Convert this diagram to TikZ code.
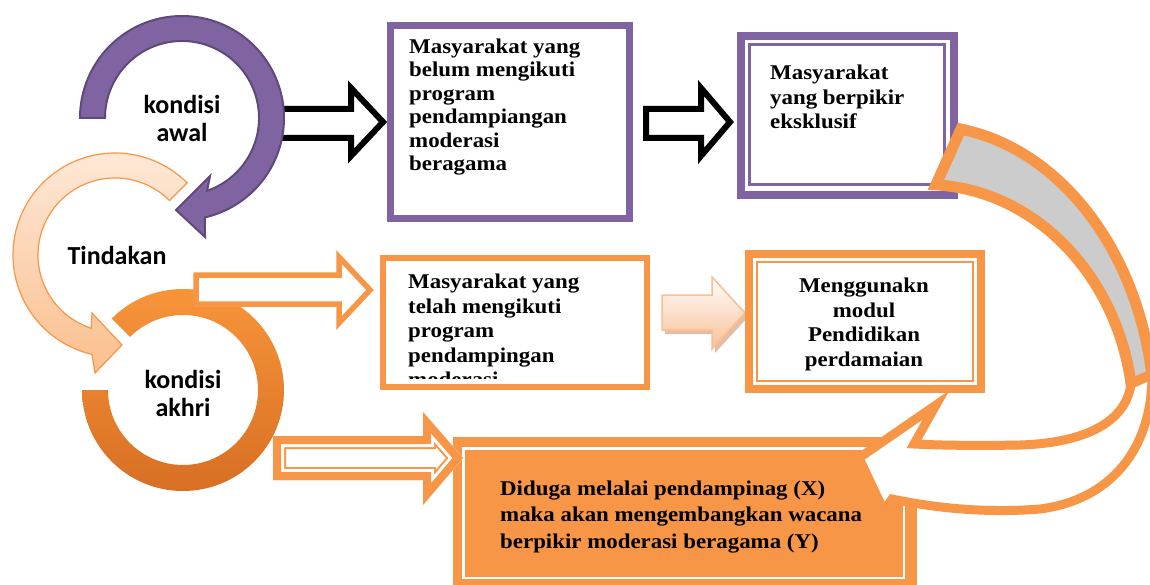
\documentclass[tikz,border=0pt]{standalone}
\usepackage{fontspec}
\newfontfamily\boxfont[FakeStretch=1.09]{Liberation Serif}
\newfontfamily\labfont{Carlito}
\definecolor{purp}{HTML}{8064A2}
\definecolor{purpdark}{HTML}{5F497A}
\definecolor{orng}{HTML}{F79646}
\definecolor{peachtop}{HTML}{FDEADA}
\definecolor{peachbot}{HTML}{FBBF8E}
\definecolor{ringtop}{HTML}{F9963B}
\definecolor{ringbot}{HTML}{D66D22}
\definecolor{graybk}{HTML}{CCCCCC}
\definecolor{lightor}{HTML}{F9BE93}
\definecolor{shadowor}{HTML}{D9A27E}
\begin{document}
\begin{tikzpicture}[x=1pt,y=-1pt,line join=miter,
  serifbox/.style={font=\boxfont\bfseries\fontsize{21}{23.4}\selectfont, inner sep=0pt, align=left, anchor=north west},
  labtext/.style={font=\labfont\bfseries\fontsize{26}{28}\selectfont, inner sep=0pt, align=center},
  hollowblack/.style={fill=white, draw=black, line width=6},
  purpbox/.style={fill=white, draw=purp},
  orbox/.style={fill=white, draw=orng}]
\useasboundingbox (0,0) rectangle (1150,585);
\fill[white] (0,0) rectangle (1150,585);

% Tindakan circular arrow (peach)
\begin{scope}[shift={(115,255)}]
\path[top color=peachtop, bottom color=peachbot, draw=orng, line width=1.2]
  (315:102) arc[start angle=315, end angle=103, radius=102]
  -- (-20,118) -- (7,90) -- (-23,58)
  -- (108:77) arc[start angle=108, end angle=315, radius=77] -- cycle;
\end{scope}

% black hollow arrows
\draw[hollowblack] (280,109) -- (351,109) -- (351,88) -- (383,122) -- (351,156) -- (351,138) -- (280,138) -- cycle;
\draw[hollowblack] (646,109) -- (701,109) -- (701,88) -- (730,122) -- (701,156) -- (701,138) -- (646,138) -- cycle;

% kondisi awal circular arrow (purple)
\begin{scope}[shift={(182,118)}]
\filldraw[fill=purp, draw=purpdark, line width=2]
  (180:102) arc[start angle=180, end angle=437, radius=102]
  -- (23,119) -- (-6,92) -- (28,58)
  -- (431:77) arc[start angle=431, end angle=180, radius=77] -- cycle;
\end{scope}

% kondisi akhri ring
\begin{scope}[shift={(183,390)}]
\path[top color=ringtop, bottom color=ringbot]
  (225:101) arc[start angle=225, end angle=540, radius=101]
  -- (540:75) arc[start angle=540, end angle=225, radius=75] -- cycle;
\end{scope}

% orange hollow arrow
\draw[fill=white, draw=orng, line width=5.5] (196,275) -- (339,275) -- (339,257) -- (370,290) -- (339,323) -- (339,304) -- (196,304) -- cycle;

% box 1
\draw[purpbox, line width=7] (390.5,25.5) rectangle (629.5,218.5);
\node[serifbox] (b1) at (409,38.8) {Masyarakat yang\\belum mengikuti\\program\\pendampiangan\\moderasi\\beragama};

% box 2
\draw[purpbox, line width=8] (741,36) rectangle (954,195);
\draw[purp, line width=2.5] (749.5,44.5) rectangle (944.7,184.5);
\node[serifbox, font=\boxfont\bfseries\fontsize{21}{24.5}\selectfont] (b2) at (770,64.8) {Masyarakat\\yang berpikir\\eksklusif};

% box 3
\fill[white] (383,258) rectangle (647,387);
\begin{scope}
\clip (386,261) rectangle (644,378.5);
\node[serifbox, font=\boxfont\bfseries\fontsize{21}{24.5}\selectfont] (b3) at (408,273.8) {Masyarakat yang\\telah mengikuti\\program\\pendampingan\\moderasi};
\end{scope}
\draw[orng, line width=6] (383,258) rectangle (647,387);

% gradient arrow
\fill[shadowor, opacity=0.7] (665,299) -- (715,299) -- (715,281) -- (748,317) -- (715,353) -- (715,334) -- (665,334) -- cycle;
\path[top color=white, bottom color=lightor, draw=lightor, line width=1.5] (662,295) -- (712,295) -- (712,277) -- (745,313) -- (712,349) -- (712,330) -- (662,330) -- cycle;

% box 4
\draw[orbox, line width=8] (749,254) rectangle (981,389);
\draw[orng, line width=2] (757,262) rectangle (973,381);
\node[serifbox, anchor=north, align=center, font=\boxfont\bfseries\fontsize{21}{24.5}\selectfont] (b4) at (864,277.8) {Menggunakn\\modul\\Pendidikan\\perdamaian};

% bottom box
\fill[orng] (453,437) rectangle (917,590);
\draw[white, line width=2.5] (463.5,448.5) rectangle (904,578);
\node[serifbox, font=\boxfont\bfseries\fontsize{21}{26.5}\selectfont] (hyp) at (500,480.4) {Diduga melalai pendampinag (X)\\maka akan mengembangkan wacana\\berpikir moderasi beragama (Y)};

% double-line arrow
\def\dlpath{(273,436) -- (423,436) -- (423,412) -- (463,458) -- (423,505) -- (423,480) -- (273,480) -- cycle}
\begin{scope}
\clip \dlpath;
\fill[white] \dlpath;
\draw[orng, line width=26] \dlpath;
\draw[white, line width=22] \dlpath;
\draw[orng, line width=16] \dlpath;
\end{scope}

% big curved arrow: back band
\begin{scope}[shift={(925,420)}]
\filldraw[fill=graybk, draw=orng, line width=11]
  (-81:229.5 and 294.5) arc[start angle=-81, end angle=-8.8, x radius=229.5, y radius=294.5]
  -- (-8.8:208.5 and 235.5) arc[start angle=-8.8, end angle=-87, x radius=208.5, y radius=235.5] -- cycle;
\end{scope}
% front band with arrowhead
\filldraw[fill=white, draw=orng, line width=9]
  (1131,384) .. controls (1126,422) and (1085,443) .. (1020,445)
  .. controls (970,446) and (935,445) .. (914,444)
  -- (936,405) -- (859,458) -- (884,511) -- (892,499)
  .. controls (940,509) and (990,513) .. (1040,509)
  .. controls (1110,500) and (1152,450) .. (1152,375) -- cycle;

% circle labels
\node[labtext, anchor=north] (awal) at (182,94.8) {kondisi\\awal};
\node[labtext, anchor=base] (tind) at (117,265) {Tindakan};
\node[labtext, anchor=north] (akhri) at (183,369.8) {kondisi\\akhri};
\end{tikzpicture}
\end{document}
